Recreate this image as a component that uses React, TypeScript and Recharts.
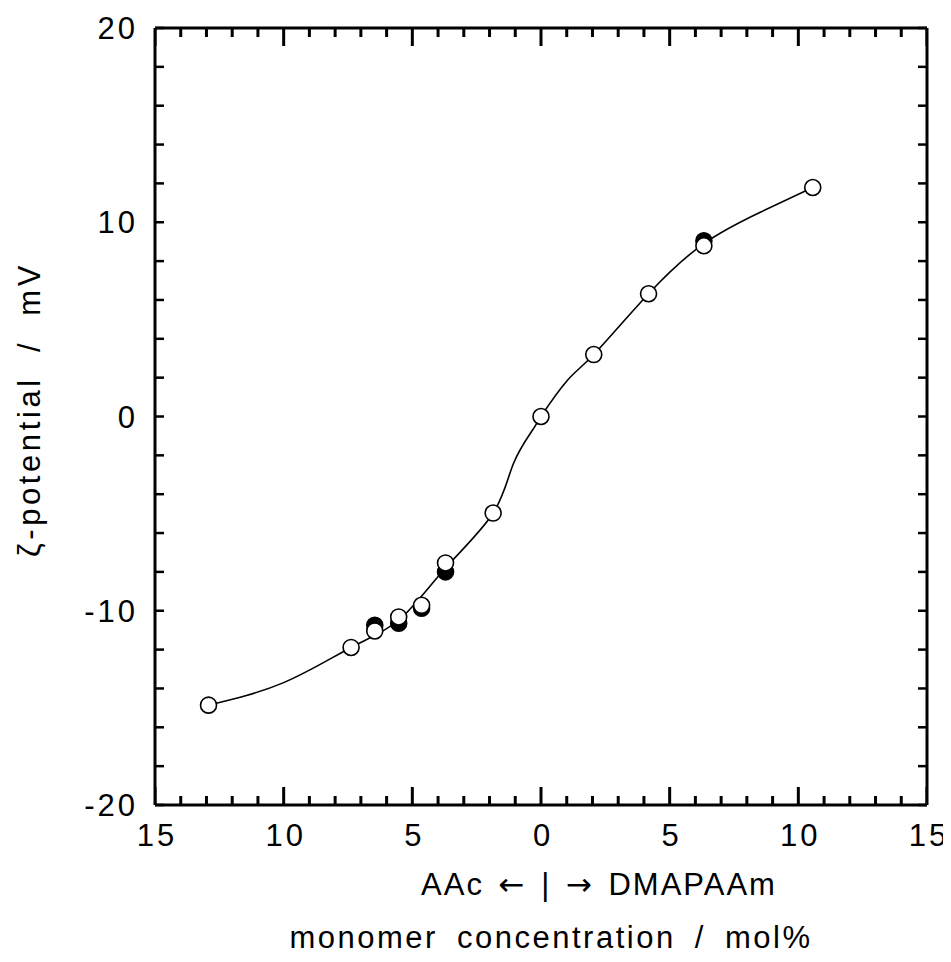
import React from "react";
import { ComposedChart, Line, Scatter, XAxis, YAxis } from "recharts";

// ─── Data ───────────────────────────────────────────────────────────────────
// x: negative = AAc side, positive = DMAPAAm side (mol%)
const openX = [-12.92, -7.38, -6.46, -5.53, -4.64, -3.71, -1.86, 0, 2.05, 4.18, 6.33, 10.56];
const openY = [-14.86, -11.89, -11.04, -10.32, -9.72, -7.54, -4.97, 0, 3.19, 6.32, 8.79, 11.79];
const filledX = [-6.46, -5.53, -4.64, -3.71, 6.33];
const filledY = [-10.75, -10.64, -9.87, -8.0, 9.05];
// hand-drawn guide curve
const curveX = [-12.92, -10, -7.38, -5.5, -3.71, -1.86, -1.07, -0.34, 0, 1.02, 2.05, 4.18, 6.33, 8.5, 10.56];
const curveY = [-14.86, -13.7, -11.89, -10.45, -7.8, -4.97, -2.42, -0.72, 0, 1.85, 3.19, 6.32, 8.9, 10.5, 11.79];

const xMajorTicks = [-15, -10, -5, 0, 5, 10, 15];
const yMajorTicks = [-20, -10, 0, 10, 20];
const xTicks = Array.from({ length: 31 }, (_, i) => i - 15);
const yTicks = Array.from({ length: 21 }, (_, i) => -20 + i * 2);
const Y_MIN = -20;
const Y_MAX = 20;

const openData = openX.map((x, i) => ({ x, y: openY[i] }));
const filledData = filledX.map((x, i) => ({ x, y: filledY[i] }));
const curveData = curveX.map((x, i) => ({ x, y: curveY[i] }));
// x tick marks on the bottom / top frame, placed through the chart scales
const bottomTickData = xTicks.map((x) => ({ x, y: Y_MIN, side: 1 }));
const topTickData = xTicks.map((x) => ({ x, y: Y_MAX, side: -1 }));

const FONT = '"Liberation Sans", Arial, Helvetica, sans-serif';
const TEXT = { fontFamily: FONT, fontSize: 31, fill: "#000", letterSpacing: 3 };
const ARROW = { fontFamily: '"DejaVu Sans", sans-serif' };

// ─── Tick labels / inward tick marks ────────────────────────────────────────
function BottomLabel({ x, y, payload }: any) {
  const v = payload.value;
  if (!xMajorTicks.includes(v)) return <g />;
  return (
    <text x={Number(x) + 2} y={Number(y) + 41} textAnchor="middle" style={TEXT}>
      {Math.abs(v)}
    </text>
  );
}

// inward x tick mark drawn as a filled bar
function XMark(p: any) {
  const cx = Number(p.cx);
  const cy = Number(p.cy);
  const v = p.payload?.x ?? p.x;
  const len = xMajorTicks.includes(v) ? 18 : 9;
  const side = p.payload?.side ?? 1;
  const y0 = side > 0 ? cy - len : cy;
  return <rect x={cx - 1.5} y={y0} width={3} height={len} fill="#000" />;
}

function LeftTick({ x, y, payload }: any) {
  const v = payload.value;
  return (
    <g>
      <path d={`M${x},${y}H${Number(x) + 9}`} stroke="#000" strokeWidth={2.5} fill="none" />
      {yMajorTicks.includes(v) && (
        <text x={Number(x) - 17} y={Number(y) + 11} textAnchor="end" style={TEXT}>
          {v}
        </text>
      )}
    </g>
  );
}

function RightTick({ x, y }: any) {
  return <path d={`M${x},${y}H${Number(x) - 9}`} stroke="#000" strokeWidth={2.5} fill="none" />;
}

// ─── Axis titles ────────────────────────────────────────────────────────────
function XTitle({ viewBox }: any) {
  const cx = viewBox.x + viewBox.width / 2;
  return (
    <g>
      <text x={cx + 58} y={viewBox.y + 90} textAnchor="middle" style={{ ...TEXT, letterSpacing: 2, wordSpacing: 4 }}>
        AAc <tspan style={ARROW}>←</tspan> | <tspan style={ARROW}>→</tspan> DMAPAAm
      </text>
      <text x={cx + 10} y={viewBox.y + 143} textAnchor="middle" style={{ ...TEXT, letterSpacing: 2.5, wordSpacing: 8 }}>
        monomer concentration / mol%
      </text>
    </g>
  );
}

function YTitle({ viewBox }: any) {
  const cx = viewBox.x - 114;
  const cy = viewBox.y + viewBox.height / 2 - 7;
  return (
    <text
      x={cx}
      y={cy}
      textAnchor="middle"
      transform={`rotate(-90, ${cx}, ${cy})`}
      style={{ ...TEXT, letterSpacing: 3.6, wordSpacing: 12 }}
    >
      ζ-potential / mV
    </text>
  );
}

const OpenDot = (p: any) => <circle cx={p.cx} cy={p.cy} r={8} fill="#fff" stroke="#000" strokeWidth={1.6} />;
const FilledDot = (p: any) => <circle cx={p.cx} cy={p.cy} r={8} fill="#000" stroke="#000" strokeWidth={1.6} />;

const axisLine = { stroke: "#000", strokeWidth: 3 };

export default function App() {
  return (
    <div style={{ background: "#fff" }}>
      <ComposedChart width={943} height={954} margin={{ top: 19, right: 23, bottom: 156, left: 146 }}>
        <XAxis
          xAxisId="b"
          type="number"
          dataKey="x"
          domain={[-15, 15]}
          ticks={xTicks}
          interval={0}
          height={1}
          tickSize={0}
          tickMargin={0}
          tickLine={false}
          axisLine={axisLine}
          tick={BottomLabel}
          allowDataOverflow
          label={<XTitle />}
        />
        <XAxis
          xAxisId="t"
          orientation="top"
          type="number"
          dataKey="x"
          domain={[-15, 15]}
          ticks={xTicks}
          interval={0}
          height={1}
          tickLine={false}
          axisLine={axisLine}
          tick={false}
          allowDataOverflow
        />
        <YAxis
          yAxisId="l"
          type="number"
          dataKey="y"
          domain={[Y_MIN, Y_MAX]}
          ticks={yTicks}
          interval={0}
          width={1}
          tickSize={0}
          tickMargin={0}
          tickLine={false}
          axisLine={axisLine}
          tick={LeftTick}
          allowDataOverflow
          label={<YTitle />}
        />
        <YAxis
          yAxisId="r"
          orientation="right"
          type="number"
          dataKey="y"
          domain={[Y_MIN, Y_MAX]}
          ticks={yTicks}
          interval={0}
          width={1}
          tickSize={0}
          tickMargin={0}
          tickLine={false}
          axisLine={axisLine}
          tick={RightTick}
          allowDataOverflow
        />
        <Scatter
          xAxisId="b"
          yAxisId="l"
          data={bottomTickData}
          dataKey="y"
          shape={XMark}
          isAnimationActive={false}
        />
        <Scatter
          xAxisId="b"
          yAxisId="l"
          data={topTickData}
          dataKey="y"
          shape={XMark}
          isAnimationActive={false}
        />
        <Line
          xAxisId="b"
          yAxisId="l"
          data={curveData}
          dataKey="y"
          type="natural"
          stroke="#000"
          strokeWidth={1.6}
          dot={false}
          activeDot={false}
          isAnimationActive={false}
        />
        <Scatter
          xAxisId="b"
          yAxisId="l"
          data={filledData}
          dataKey="y"
          shape={FilledDot}
          isAnimationActive={false}
        />
        <Scatter
          xAxisId="b"
          yAxisId="l"
          data={openData}
          dataKey="y"
          shape={OpenDot}
          isAnimationActive={false}
        />
      </ComposedChart>
    </div>
  );
}
